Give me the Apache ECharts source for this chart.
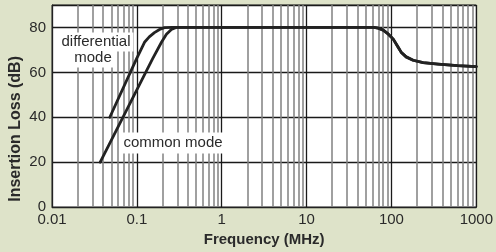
<!DOCTYPE html>
<html>
<head>
<meta charset="utf-8">
<script src="https://cdn.jsdelivr.net/npm/echarts@6/dist/echarts.min.js"></script>
<style>
  html, body { margin: 0; padding: 0; background: #dee3c9; }
  #chart { width: 496px; height: 252px; }
</style>
</head>
<body>
<div id="chart"></div>
<script>
// values
const xTickLabels = ['0.01', '0.1', '1', '10', '100', '1000'];
const yTickLabels = ['0', '20', '40', '60', '80'];

const diffFreq = [0.048, 0.099, 0.123, 0.14, 0.161, 0.185, 0.211, 0.26, 10];
const diffLoss = [40, 66, 73.4, 75.8, 77.7, 79.1, 79.9, 80, 80];

const commonFreq = [0.037, 0.153, 0.195, 0.223, 0.255, 0.29, 10];
const commonLoss = [20, 66, 73.4, 77, 79.1, 80, 80];

// both modes share the same high frequency roll-off
const tailFreq = [62, 70, 80, 92, 105, 120, 130, 149, 180, 236, 354, 600, 1000];
const tailLoss = [80, 79.7, 78.8, 77, 74.8, 71.2, 69, 66.9, 65.4, 64.3, 63.7, 63, 62.6];

// minor grid: 2..9 in each decade
const decades = [0.01, 0.1, 1, 10, 100];
const minorSteps = [2, 3, 4, 5, 6, 7, 8, 9];

const pairs = (xs, ys) => xs.map((x, i) => [x, ys[i]]);
const diffData = pairs(diffFreq.concat(tailFreq), diffLoss.concat(tailLoss));
const commonData = pairs(commonFreq.concat(tailFreq), commonLoss.concat(tailLoss));

const minorLines = [];
decades.forEach(d => minorSteps.forEach(s => minorLines.push({ xAxis: +(d * s).toPrecision(3) })));

const font = 'Liberation Sans, Arial, Helvetica, sans-serif';

const chart = echarts.init(document.getElementById('chart'));
const option = {
  backgroundColor: '#dee3c9',
  animation: false,
  grid: {
    left: 52, right: 18, top: 5, bottom: 40,
    show: true, backgroundColor: '#fff', borderColor: '#333', borderWidth: 1
  },
  xAxis: {
    type: 'log', logBase: 10, min: 0.01, max: 1000,
    axisLine: { show: true, lineStyle: { color: '#222', width: 1 } },
    axisTick: { show: false },
    splitLine: { show: true, lineStyle: { color: '#1a1a1a', width: 1.3 } },
    axisLabel: {
      color: '#2a2a2a', fontSize: 15, fontFamily: font, margin: 5,
      formatter: v => xTickLabels[Math.round(Math.log10(v)) + 2]
    },
    name: 'Frequency (MHz)', nameLocation: 'middle', nameGap: 22,
    nameTextStyle: { color: '#2a2a2a', fontSize: 15, fontWeight: 'bold', fontFamily: font }
  },
  yAxis: {
    type: 'value', min: 0, max: 90, interval: 20,
    axisLine: { show: true, lineStyle: { color: '#222', width: 1 } },
    axisTick: { show: false },
    splitLine: { show: true, lineStyle: { color: '#1a1a1a', width: 1.3 } },
    axisLabel: {
      color: '#2a2a2a', fontSize: 15, fontFamily: font, margin: 6,
      formatter: v => yTickLabels[v / 20] || ''
    }
  },
  graphic: [
    {
      type: 'text', left: 8, top: 56, rotation: Math.PI / 2,
      style: { text: 'Insertion Loss (dB)', fill: '#2a2a2a', font: 'bold 16px ' + font }
    },
    {
      type: 'text', x: 96, y: 42, z: 100,
      style: { text: 'differential', fill: '#2a2a2a', font: '15px ' + font, align: 'center', verticalAlign: 'middle', backgroundColor: '#fff', padding: [2, 3] }
    },
    {
      type: 'text', x: 93, y: 58, z: 100,
      style: { text: 'mode', fill: '#2a2a2a', font: '15px ' + font, align: 'center', verticalAlign: 'middle', backgroundColor: '#fff', padding: [2, 3] }
    },
    {
      type: 'text', x: 173, y: 143, z: 100,
      style: { text: 'common mode', fill: '#2a2a2a', font: '15px ' + font, align: 'center', verticalAlign: 'middle', backgroundColor: '#fff', padding: [3, 3] }
    }
  ],
  series: [
    {
      type: 'line', data: [], silent: true, z: 1,
      markLine: {
        silent: true, symbol: 'none', animation: false,
        label: { show: false },
        lineStyle: { color: '#808080', width: 1.5, type: 'solid' },
        data: minorLines
      }
    },
    {
      name: 'common mode', type: 'line', data: commonData, z: 5,
      showSymbol: false, smooth: false,
      lineStyle: { color: '#222', width: 2.8, join: 'round', cap: 'round' }
    },
    {
      name: 'differential mode', type: 'line', data: diffData, z: 5,
      showSymbol: false, smooth: false,
      lineStyle: { color: '#222', width: 2.8, join: 'round', cap: 'round' }
    }
  ]
};
option && chart.setOption(option);
</script>
</body>
</html>
